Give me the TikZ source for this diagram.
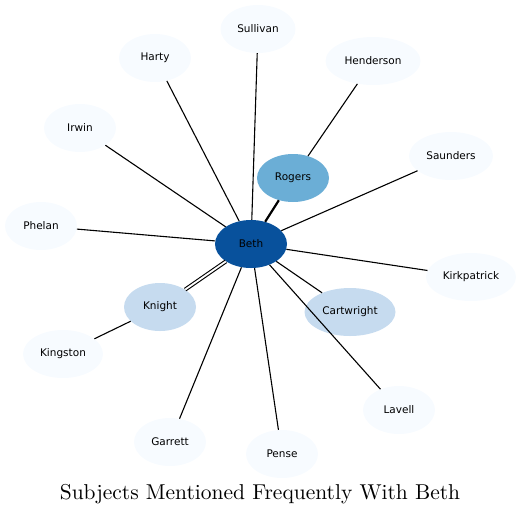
\documentclass[tikz,border=0pt]{standalone}
\usepackage{fontspec}
\usepackage{graphicx}
\usepackage{xcolor}
\usepackage{tikz}
\usetikzlibrary{shapes.geometric, arrows.meta, positioning, calc}
\newfontfamily\labelfont{DejaVu Sans}
\definecolor{hub}{HTML}{08519C}
\definecolor{mid}{HTML}{6BAED6}
\definecolor{pale}{HTML}{C6DBEF}
\definecolor{faint}{HTML}{F7FBFF}
\tikzstyle{subject} = [ellipse, draw=none, inner sep=0pt, minimum width=72pt, minimum height=48pt, font=\labelfont\fontsize{10.5}{12}\selectfont]
\tikzstyle{link} = [black, line width=1.1pt]

\begin{document}
\begin{tikzpicture}[x=1pt, y=-1pt]
\useasboundingbox (0,0) rectangle (521,515);

% Centre and close subjects
\node (beth) at (251,244) [subject, fill=hub] {Beth};
\node (rogers) at (293,178) [subject, fill=mid] {Rogers};
\node (knight) at (160,307) [subject, fill=pale] {Knight};
\node (cartwright) at (350,312) [subject, fill=pale, minimum width=91pt] {Cartwright};

% Outer ring
\node (sullivan) at (258,29) [subject, fill=faint, minimum width=75pt] {Sullivan};
\node (harty) at (155,58) [subject, fill=faint] {Harty};
\node (henderson) at (373,61) [subject, fill=faint, minimum width=95pt] {Henderson};
\node (irwin) at (80,128) [subject, fill=faint] {Irwin};
\node (saunders) at (451,156) [subject, fill=faint, minimum width=84pt] {Saunders};
\node (phelan) at (41,226) [subject, fill=faint] {Phelan};
\node (kirkpatrick) at (471,277) [subject, fill=faint, minimum width=90pt] {Kirkpatrick};
\node (kingston) at (63,354) [subject, fill=faint, minimum width=80pt] {Kingston};
\node (garrett) at (170,442) [subject, fill=faint] {Garrett};
\node (pense) at (282,454) [subject, fill=faint] {Pense};
\node (lavell) at (399,410) [subject, fill=faint] {Lavell};

% Links
\draw [link, line width=2.2pt] (beth) -- (rogers);
\draw [link, double, double distance=1.8pt] (beth) -- (knight);
\draw [link] (beth) -- (cartwright);
\draw [link] (beth) -- (sullivan);
\draw [link] (beth) -- (harty);
\draw [link] (rogers) -- (henderson);
\draw [link] (beth) -- (irwin);
\draw [link] (beth) -- (saunders);
\draw [link] (beth) -- (phelan);
\draw [link] (beth) -- (kirkpatrick);
\draw [link] (beth) -- (garrett);
\draw [link] (beth) -- (pense);
\draw [link] (beth) -- (lavell);
\draw [link] (knight) -- (kingston);

% Title
\node (title) at (260,499) [anchor=base] {\scalebox{2.15}{Subjects Mentioned Frequently With Beth}};

\end{tikzpicture}
\end{document}
